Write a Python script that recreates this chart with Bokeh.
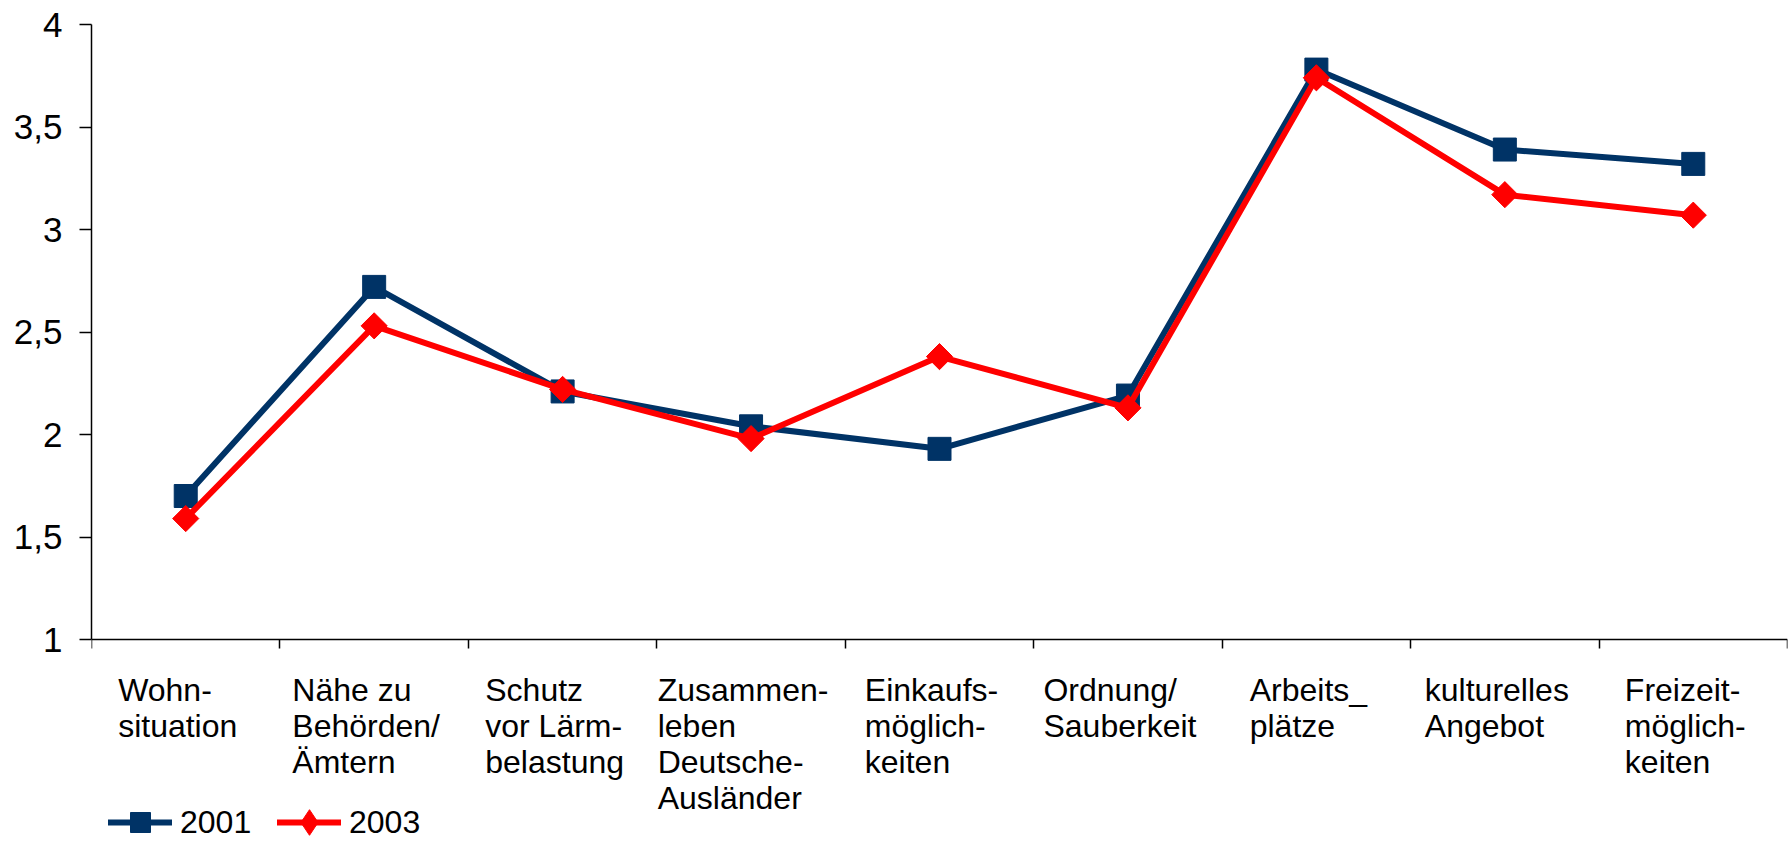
import math
from bokeh.plotting import figure
from bokeh.models import (Range1d, FixedTicker, CustomJSTickFormatter, ColumnDataSource,
                          LabelSet, Legend, LegendItem)
from bokeh.core.properties import value
from bokeh.embed import file_html
from bokeh.resources import INLINE

# ---------------- data ----------------
categories = [
    "Wohn-\nsituation",
    "Nähe zu\nBehörden/\nÄmtern",
    "Schutz\nvor Lärm-\nbelastung",
    "Zusammen-\nleben\nDeutsche-\nAusländer",
    "Einkaufs-\nmöglich-\nkeiten",
    "Ordnung/\nSauberkeit",
    "Arbeits_\nplätze",
    "kulturelles\nAngebot",
    "Freizeit-\nmöglich-\nkeiten",
]
values_2001 = [1.70, 2.72, 2.21, 2.04, 1.93, 2.19, 3.78, 3.39, 3.32]
values_2003 = [1.59, 2.53, 2.22, 1.98, 2.38, 2.13, 3.74, 3.17, 3.07]
series_names = ["2001", "2003"]
y_ticks = [1, 1.5, 2, 2.5, 3, 3.5, 4]
y_min, y_max = 1, 4

# ---------------- layout / style ----------------
FONT = "Liberation Sans"
BLUE = "#003366"
RED = "#FF0000"
LABEL_SIZE = 32
W, H = 1792, 841
TOP, LEFT, RIGHT = 24, 91, 5
AXIS_PX = 639                      # pixel row of the x axis (value y_min)
LEGEND_CY = 19                     # legend row centre, px above canvas bottom

n = len(categories)
xs = [i + 0.5 for i in range(n)]

# frame reaches the bottom of the canvas so labels/legend below the axis are not clipped
frame_h = H - TOP
px_per_unit = (AXIS_PX - TOP) / (y_max - y_min)
y_bottom = y_max - frame_h / px_per_unit

p = figure(width=W, height=H, output_backend="svg", toolbar_location=None,
           x_range=Range1d(0, n), y_range=Range1d(y_bottom, y_max),
           min_border_left=LEFT, min_border_right=RIGHT, min_border_top=TOP, min_border_bottom=0)
p.outline_line_color = None
p.xgrid.grid_line_color = None
p.ygrid.grid_line_color = None
p.background_fill_color = "white"

# series
r1l = p.line(xs, values_2001, line_color=BLUE, line_width=6, line_cap="round", line_join="round")
r1m = p.scatter(xs, values_2001, marker="square", size=23, fill_color=BLUE, line_color=BLUE)
r2l = p.line(xs, values_2003, line_color=RED, line_width=6, line_cap="round", line_join="round")
r2m = p.scatter(xs, values_2003, marker="square", angle=math.pi / 4, size=18.5,
                fill_color=RED, line_color=RED)
# legend-only marker (legend glyphs are drawn unrotated); its single point is NaN, so not shown
r2leg = p.scatter([float("nan")], [float("nan")], marker="diamond", fill_color=RED, line_color=RED)

# x axis (category boundaries as ticks, no numeric labels), pinned at y = y_min
xa = p.xaxis[0]
xa.fixed_location = y_min
xa.ticker = FixedTicker(ticks=list(range(n + 1)))
xa.formatter = CustomJSTickFormatter(code="return ''")
xa.axis_line_color = "black"
xa.axis_line_width = 1.5
xa.major_tick_line_color = "black"
xa.major_tick_line_width = 1.5
xa.major_tick_out = 9
xa.major_tick_in = 0
xa.minor_tick_out = 0
xa.minor_tick_in = 0

# y axis
ya = p.yaxis[0]
ya.bounds = (y_min, y_max)
ya.ticker = FixedTicker(ticks=y_ticks)
ya.formatter = CustomJSTickFormatter(code="return tick.toString().replace('.', ',')")
ya.axis_line_color = "black"
ya.axis_line_width = 1.5
ya.major_tick_line_color = "black"
ya.major_tick_line_width = 1.5
ya.major_tick_out = 12
ya.major_tick_in = 0
ya.minor_tick_out = 0
ya.minor_tick_in = 0
ya.major_label_standoff = 17
ya.major_label_text_font = FONT
ya.major_label_text_font_size = "35px"
ya.major_label_text_color = "black"

# category labels: multi-line blocks centred on category, lines left aligned
CHAR_W = {
    'a': 556, 'b': 556, 'c': 500, 'd': 556, 'e': 556, 'f': 278, 'g': 556, 'h': 556,
    'i': 222, 'k': 500, 'l': 222, 'm': 833, 'n': 556, 'o': 556, 'p': 556, 'r': 333,
    's': 500, 't': 278, 'u': 556, 'v': 500, 'z': 500, 'ä': 556, 'ö': 556, '-': 333,
    '/': 278, '_': 556, ' ': 278, 'A': 667, 'B': 667, 'D': 722, 'E': 667, 'F': 611,
    'L': 556, 'N': 722, 'O': 778, 'S': 667, 'W': 944, 'Z': 611, 'Ä': 667,
}


def text_width(s, size):
    return sum(CHAR_W.get(c, 556) for c in s) / 1000.0 * size


offsets = [-(max(text_width(l, LABEL_SIZE) for l in c.split("\n")) / 2.0) - 8 for c in categories]
src = ColumnDataSource(dict(x=xs, y=[y_min] * n, text=categories, xo=offsets))
labels = LabelSet(x="x", y="y", text="text", x_offset="xo", y_offset=-32, source=src,
                  text_font=value(FONT), text_font_size=f"{LABEL_SIZE}px", text_color="black",
                  text_align="left", text_baseline="top", text_line_height=1.0)
p.add_layout(labels)


def make_legend(label, renderers, loc, gh):
    return Legend(items=[LegendItem(label=label, renderers=renderers)], location=loc,
                  orientation="horizontal", padding=0, margin=0, spacing=0,
                  border_line_color=None, background_fill_alpha=0,
                  glyph_width=64, glyph_height=gh, label_standoff=8,
                  label_text_font=FONT, label_text_font_size="32px",
                  label_text_color="black")


p.add_layout(make_legend(series_names[0], [r1l, r1m], (108 - LEFT, LEGEND_CY - 25), 50))
p.add_layout(make_legend(series_names[1], [r2l, r2leg], (277 - LEFT, LEGEND_CY - 32), 64))

open("out.html", "w").write(file_html(p, INLINE))
